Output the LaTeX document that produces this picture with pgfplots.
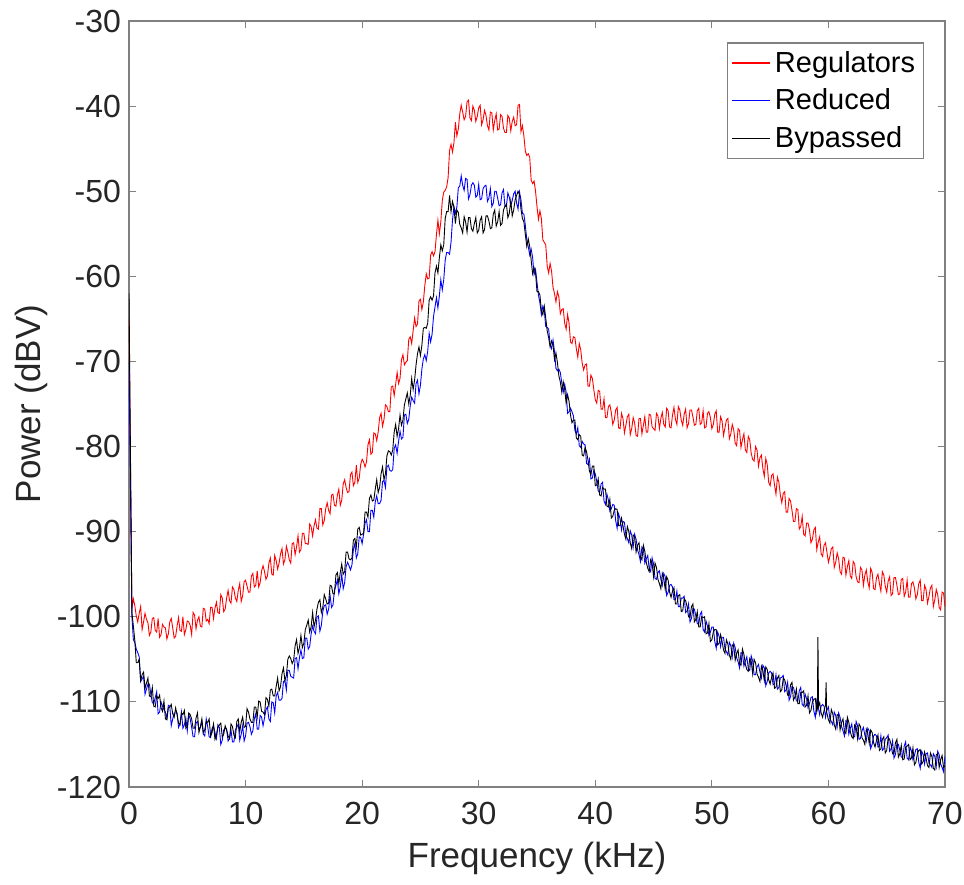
\documentclass[border=0pt]{standalone}
\usepackage{fontspec}
\setmainfont{Liberation Sans}
\usepackage{pgfplots}
\usepackage{pgfplotstable}
\pgfplotsset{compat=1.18}
\definecolor{axgray}{RGB}{128,128,128}
\definecolor{txtgray}{RGB}{38,38,38}
\pgfplotstableread{
x r b k
0 -65 -70 -62
0.25 -99.0 -100.0 -99.5
0.375 -97.9 -102.7 -101.1
0.5 -98.7 -103.0 -102.8
0.625 -99.9 -103.8 -105.4
0.75 -100.6 -104.2 -105.4
0.875 -99.6 -104.7 -105.0
1 -98.8 -107.6 -107.5
1.125 -101.5 -107.3 -106.8
1.25 -100.6 -107.0 -106.5
1.375 -99.6 -109.1 -108.4
1.5 -100.3 -108.5 -107.8
1.625 -100.7 -107.9 -107.2
1.75 -102.2 -107.9 -109.3
1.875 -101.8 -109.1 -109.4
2 -100.2 -110.1 -108.3
2.125 -100.1 -110.2 -110.5
2.25 -101.6 -109.5 -110.6
2.375 -101.8 -108.8 -109.3
2.5 -100.2 -111.4 -109.6
2.625 -102.4 -111.2 -109.2
2.75 -102.1 -110.0 -110.7
2.875 -100.9 -110.5 -111.1
3 -101.2 -110.9 -109.9
3.125 -101.3 -111.2 -112.0
3.25 -102.6 -111.9 -112.1
3.375 -102.0 -110.4 -110.7
3.5 -100.6 -110.5 -110.6
3.625 -100.2 -112.8 -110.3
3.75 -101.3 -112.0 -111.4
3.875 -102.5 -111.3 -111.8
4 -102.3 -111.3 -110.7
4.125 -101.1 -111.3 -111.5
4.25 -100.1 -113.0 -112.5
4.375 -101.6 -112.6 -112.7
4.5 -101.7 -111.2 -111.3
4.625 -100.0 -113.1 -111.5
4.75 -102.1 -112.7 -111.0
4.875 -101.5 -111.9 -113.1
5 -100.5 -113.4 -112.9
5.125 -100.6 -111.5 -111.3
5.25 -101.0 -112.0 -111.5
5.375 -102.1 -113.0 -112.0
5.5 -99.5 -114.1 -113.1
5.625 -99.8 -114.1 -113.1
5.75 -101.4 -112.5 -111.9
5.875 -100.4 -112.3 -111.3
6 -100.0 -113.2 -113.6
6.125 -101.1 -113.0 -112.9
6.25 -101.2 -112.3 -112.0
6.375 -99.0 -113.8 -113.6
6.5 -99.1 -114.0 -113.3
6.625 -100.5 -112.0 -112.3
6.75 -100.3 -112.9 -112.4
6.875 -100.8 -114.1 -112.0
7 -98.9 -114.2 -114.0
7.125 -98.9 -113.1 -113.6
7.25 -100.2 -112.8 -112.6
7.375 -99.0 -113.6 -114.4
7.5 -98.3 -114.3 -113.9
7.625 -99.5 -112.7 -113.0
7.75 -99.6 -113.0 -112.7
7.875 -97.4 -115.0 -112.5
8 -97.8 -114.5 -114.1
8.125 -99.4 -113.3 -113.8
8.25 -99.1 -113.1 -112.8
8.375 -97.8 -113.2 -113.3
8.5 -96.9 -114.6 -114.0
8.625 -98.1 -114.3 -114.3
8.75 -98.4 -113.3 -112.6
8.875 -96.5 -114.7 -112.9
9 -96.8 -114.7 -113.9
9.125 -97.8 -113.3 -114.2
9.25 -98.2 -113.0 -112.3
9.375 -96.9 -112.6 -112.0
9.5 -96.1 -114.5 -113.5
9.625 -98.2 -113.8 -112.4
9.75 -97.5 -112.8 -111.8
9.875 -95.9 -114.6 -113.0
10 -95.7 -114.0 -112.9
10.125 -96.4 -112.5 -110.8
10.25 -97.1 -112.4 -111.2
10.375 -97.1 -112.9 -112.0
10.5 -95.2 -113.8 -112.4
10.625 -94.9 -113.4 -112.4
10.75 -96.5 -112.0 -110.6
10.875 -96.3 -111.4 -110.6
11 -94.6 -113.2 -111.8
11.125 -96.5 -113.2 -109.9
11.25 -96.0 -111.6 -110.0
11.375 -94.6 -111.8 -111.1
11.5 -94.0 -112.8 -111.2
11.625 -94.7 -111.9 -111.5
11.75 -95.6 -110.9 -109.5
11.875 -95.2 -110.6 -109.7
12 -93.7 -112.0 -110.5
12.125 -93.1 -112.3 -108.6
12.25 -95.0 -110.0 -108.5
12.375 -95.1 -110.1 -109.3
12.5 -92.8 -111.3 -109.3
12.625 -93.4 -109.3 -108.2
12.75 -94.4 -108.9 -107.2
12.875 -93.7 -109.8 -108.7
13 -92.6 -109.8 -108.2
13.125 -92.0 -109.6 -106.7
13.25 -93.8 -107.6 -106.0
13.375 -93.3 -107.5 -107.5
13.5 -91.7 -108.6 -106.9
13.625 -92.4 -106.3 -105.0
13.75 -93.3 -106.3 -104.6
13.875 -93.7 -107.0 -104.9
14 -91.4 -107.1 -105.5
14.125 -91.3 -107.2 -105.1
14.25 -92.7 -104.9 -103.4
14.375 -91.8 -104.8 -102.7
14.5 -90.5 -106.1 -104.3
14.625 -92.4 -104.8 -103.6
14.75 -92.1 -103.9 -102.2
14.875 -90.2 -104.9 -103.6
15 -90.2 -104.8 -103.1
15.125 -91.4 -102.5 -101.5
15.25 -91.4 -102.5 -101.0
15.375 -91.5 -103.8 -100.4
15.5 -89.1 -103.5 -101.8
15.625 -89.4 -102.0 -101.2
15.75 -90.5 -101.1 -99.5
15.875 -89.3 -101.7 -101.2
16 -88.6 -102.0 -100.4
16.125 -89.6 -100.0 -99.1
16.25 -89.7 -99.9 -98.3
16.375 -87.3 -101.7 -98.0
16.5 -87.3 -101.0 -99.5
16.625 -89.2 -99.4 -98.9
16.75 -88.7 -98.7 -97.4
16.875 -87.3 -98.6 -97.9
17 -86.6 -99.7 -98.5
17.125 -87.5 -99.1 -98.4
17.25 -87.9 -97.5 -96.3
17.375 -85.7 -98.9 -96.4
17.5 -85.6 -98.6 -97.3
17.625 -86.9 -96.9 -97.3
17.75 -87.0 -96.3 -95.1
17.875 -85.7 -95.7 -94.8
18 -85.0 -97.3 -96.1
18.125 -86.9 -96.5 -94.8
18.25 -86.3 -95.0 -93.8
18.375 -84.4 -96.7 -95.0
18.5 -83.9 -96.0 -94.7
18.625 -84.8 -94.1 -92.4
18.75 -85.4 -93.6 -92.4
18.875 -85.3 -94.0 -93.2
19 -83.3 -94.5 -93.3
19.125 -83.0 -93.9 -93.1
19.25 -84.6 -92.1 -91.0
19.375 -84.2 -91.4 -90.8
19.5 -82.2 -93.1 -91.8
19.625 -84.2 -92.6 -89.7
19.75 -83.7 -90.6 -89.5
19.875 -82.1 -90.7 -90.4
20 -81.5 -91.4 -90.3
20.125 -81.8 -90.3 -90.2
20.25 -82.4 -89.0 -87.7
20.375 -81.8 -88.6 -87.7
20.5 -79.8 -90.0 -88.3
20.625 -79.2 -90.0 -86.1
20.75 -80.9 -87.5 -85.7
20.875 -80.7 -87.5 -86.4
21 -78.4 -88.3 -86.3
21.125 -78.5 -86.5 -85.0
21.25 -79.3 -85.8 -83.9
21.375 -78.3 -86.7 -85.4
21.5 -76.6 -86.7 -84.8
21.625 -76.1 -86.3 -83.2
21.75 -77.6 -84.1 -82.4
21.875 -76.8 -84.0 -83.9
22 -75.1 -84.8 -83.2
22.125 -75.3 -82.4 -81.1
22.25 -75.9 -82.2 -80.5
22.375 -75.9 -82.8 -80.6
22.5 -73.0 -82.9 -81.0
22.625 -72.9 -82.7 -80.4
22.75 -74.0 -80.2 -78.3
22.875 -72.7 -79.8 -77.4
23 -71.3 -80.8 -78.8
23.125 -72.6 -79.4 -77.9
23.25 -72.0 -78.2 -76.3
23.375 -69.8 -79.1 -77.5
23.5 -69.2 -78.9 -76.9
23.625 -70.4 -76.3 -75.1
23.75 -70.1 -76.2 -74.4
23.875 -69.9 -77.3 -73.7
24 -67.4 -76.8 -75.0
24.125 -67.1 -75.2 -74.0
24.25 -67.9 -74.2 -72.0
24.375 -66.4 -74.6 -73.3
24.5 -64.9 -74.9 -72.2
24.625 -65.9 -72.6 -70.4
24.75 -65.6 -72.2 -69.1
24.875 -62.9 -73.8 -68.3
25 -62.7 -72.8 -69.3
25.125 -63.9 -70.9 -68.1
25.25 -63.0 -69.7 -66.1
25.375 -61.1 -69.2 -66.0
25.5 -59.7 -69.9 -66.1
25.625 -60.3 -68.8 -65.5
25.75 -60.2 -66.7 -62.8
25.875 -57.5 -67.7 -62.4
26 -57.1 -66.8 -62.8
26.125 -57.6 -64.7 -62.3
26.25 -57.1 -63.6 -59.6
26.375 -55.1 -62.5 -58.8
26.5 -53.4 -63.7 -59.6
26.625 -55.0 -62.3 -57.8
26.75 -53.6 -60.4 -56.3
26.875 -51.1 -61.6 -57.0
27 -50.1 -60.4 -56.3
27.125 -49.9 -58.1 -53.2
27.25 -49.5 -57.2 -52.4
27.375 -48.4 -57.2 -52.4
27.5 -45.2 -57.4 -50.5
27.625 -44.5 -56.0 -52.4
27.75 -45.4 -53.4 -51.2
27.875 -44.3 -51.8 -51.9
28 -41.9 -52.6 -53.8
28.125 -43.5 -51.9 -52.2
28.25 -42.7 -49.6 -52.5
28.375 -40.9 -49.4 -53.9
28.5 -39.9 -48.2 -54.3
28.625 -40.7 -49.3 -54.9
28.75 -41.6 -49.9 -53.0
28.875 -41.2 -48.5 -53.6
29 -39.5 -48.6 -54.8
29.125 -39.3 -50.9 -53.1
29.25 -41.4 -50.4 -53.1
29.375 -41.7 -49.3 -54.4
29.5 -40.0 -49.0 -54.7
29.625 -40.5 -49.3 -53.8
29.75 -41.8 -50.7 -53.1
29.875 -41.2 -50.5 -54.9
30 -40.2 -49.2 -54.6
30.125 -39.9 -51.0 -53.4
30.25 -42.2 -50.9 -53.0
30.375 -41.6 -49.7 -54.9
30.5 -40.5 -49.4 -54.5
30.625 -41.1 -49.3 -52.9
30.75 -42.3 -51.2 -52.9
30.875 -42.8 -50.8 -53.5
31 -40.7 -49.7 -54.4
31.125 -40.8 -51.8 -54.3
31.25 -42.8 -51.4 -52.7
31.375 -41.7 -50.0 -52.2
31.5 -40.9 -50.0 -54.1
31.625 -42.8 -50.8 -53.6
31.75 -42.7 -51.7 -52.4
31.875 -41.0 -51.6 -54.0
32 -41.2 -50.2 -53.8
32.125 -42.6 -49.8 -52.2
32.25 -43.1 -51.8 -51.8
32.375 -43.1 -51.8 -51.5
32.5 -41.1 -50.2 -53.1
32.625 -41.4 -50.7 -52.6
32.75 -42.9 -51.7 -51.1
32.875 -41.8 -51.1 -52.9
33 -41.3 -50.3 -52.2
33.125 -42.3 -50.0 -51.0
33.25 -42.2 -51.4 -50.5
33.375 -39.9 -52.1 -50.0
33.5 -39.8 -50.1 -50.4
33.625 -43.0 -51.0 -52.1
33.75 -42.3 -52.6 -53.2
33.875 -43.5 -52.7 -53.6
34 -45.3 -54.0 -55.1
34.125 -45.8 -55.7 -56.5
34.25 -45.6 -56.5 -55.6
34.375 -46.0 -57.5 -56.5
34.5 -48.7 -56.8 -58.1
34.625 -49.1 -57.8 -59.7
34.75 -48.8 -59.8 -59.0
34.875 -50.0 -59.2 -59.6
35 -51.8 -60.7 -61.8
35.125 -53.3 -62.2 -61.8
35.25 -52.3 -63.1 -62.2
35.375 -53.2 -64.5 -64.0
35.5 -55.7 -63.5 -64.5
35.625 -56.0 -64.0 -63.5
35.75 -56.3 -65.9 -64.9
35.875 -58.8 -66.0 -66.4
36 -59.6 -66.2 -67.2
36.125 -58.5 -68.0 -68.3
36.25 -59.4 -68.5 -67.6
36.375 -61.3 -67.5 -68.1
36.5 -62.0 -68.8 -69.8
36.625 -63.0 -70.8 -69.0
36.75 -61.8 -71.1 -70.1
36.875 -62.4 -70.9 -71.7
37 -64.4 -71.3 -72.4
37.125 -63.9 -72.5 -73.6
37.25 -63.8 -73.6 -72.4
37.375 -65.5 -72.7 -73.3
37.5 -66.2 -73.6 -74.9
37.625 -64.5 -76.1 -73.9
37.75 -65.5 -75.9 -74.7
37.875 -67.7 -75.5 -76.3
38 -67.9 -75.9 -77.2
38.125 -67.1 -76.4 -76.9
38.25 -67.2 -78.1 -76.9
38.375 -68.5 -78.5 -79.0
38.5 -69.5 -77.8 -79.2
38.625 -67.9 -79.9 -78.6
38.75 -68.6 -80.1 -78.8
38.875 -70.2 -79.4 -81.0
39 -71.0 -79.7 -81.1
39.125 -70.4 -79.8 -80.1
39.25 -70.3 -82.0 -80.6
39.375 -72.9 -82.1 -81.6
39.5 -72.9 -81.5 -82.9
39.625 -71.6 -83.8 -83.3
39.75 -72.0 -83.7 -82.3
39.875 -73.3 -82.8 -82.3
40 -74.5 -83.2 -84.6
40.125 -74.9 -84.1 -84.5
40.25 -73.4 -85.2 -83.8
40.375 -73.5 -85.4 -85.7
40.5 -75.6 -84.4 -85.8
40.625 -75.6 -84.2 -84.8
40.75 -74.4 -86.4 -85.0
40.875 -76.6 -86.8 -85.0
41 -76.6 -85.6 -87.0
41.125 -75.3 -86.3 -87.1
41.25 -75.1 -87.6 -86.2
41.375 -76.0 -87.3 -88.4
41.5 -77.4 -86.8 -88.2
41.625 -76.9 -86.9 -87.5
41.75 -75.7 -88.7 -87.3
41.875 -75.4 -89.6 -87.4
42 -77.8 -87.9 -89.3
42.125 -77.9 -88.5 -89.3
42.25 -76.1 -89.8 -88.4
42.375 -76.7 -88.8 -89.3
42.5 -78.4 -88.9 -90.3
42.625 -77.5 -90.4 -90.9
42.75 -76.5 -90.8 -89.4
42.875 -76.2 -91.3 -90.0
43 -78.6 -89.9 -91.3
43.125 -77.9 -90.4 -92.0
43.25 -76.6 -91.8 -90.4
43.375 -77.2 -90.3 -90.6
43.5 -78.7 -90.9 -92.4
43.625 -78.8 -92.1 -91.6
43.75 -76.7 -92.7 -91.3
43.875 -76.7 -93.5 -93.0
44 -78.5 -91.8 -93.3
44.125 -77.5 -92.1 -91.6
44.25 -76.5 -93.7 -92.3
44.375 -78.3 -93.2 -93.6
44.5 -78.3 -92.8 -94.3
44.625 -76.2 -94.4 -94.7
44.75 -76.3 -94.7 -93.3
44.875 -77.7 -93.1 -93.7
45 -77.9 -93.8 -95.3
45.125 -78.1 -95.5 -93.7
45.25 -76.1 -95.6 -94.2
45.375 -76.4 -94.8 -95.6
45.5 -77.9 -94.6 -96.1
45.625 -76.7 -95.6 -96.7
45.75 -76.0 -96.3 -94.9
45.875 -77.4 -94.9 -95.5
46 -77.7 -95.3 -96.8
46.125 -75.5 -97.5 -95.3
46.25 -75.8 -97.1 -95.7
46.375 -77.7 -96.3 -97.1
46.5 -77.8 -96.2 -97.7
46.625 -76.3 -96.5 -97.0
46.75 -75.4 -98.0 -96.6
46.875 -76.8 -98.0 -98.5
47 -77.4 -97.0 -98.5
47.125 -75.3 -98.8 -97.5
47.25 -75.7 -98.8 -97.4
47.375 -76.9 -97.8 -99.4
47.5 -77.5 -97.8 -99.3
47.625 -76.2 -97.6 -97.9
47.75 -75.6 -99.5 -98.1
47.875 -77.8 -99.3 -98.8
48 -77.3 -98.5 -100.0
48.125 -75.7 -100.6 -100.1
48.25 -75.7 -100.2 -98.8
48.375 -76.5 -99.0 -98.5
48.5 -77.5 -99.1 -100.6
48.625 -77.4 -99.9 -100.3
48.75 -75.8 -100.8 -99.4
48.875 -75.5 -100.9 -101.2
49 -77.4 -99.7 -101.2
49.125 -77.2 -99.4 -100.0
49.25 -75.8 -101.5 -100.1
49.375 -77.8 -101.8 -100.0
49.5 -77.7 -100.5 -102.0
49.625 -76.1 -101.1 -101.9
49.75 -75.9 -102.2 -100.8
49.875 -76.6 -101.8 -102.9
50 -77.9 -101.2 -102.7
50.125 -77.4 -101.2 -101.8
50.25 -76.2 -102.9 -101.5
50.375 -75.8 -103.7 -101.5
50.5 -78.3 -101.8 -103.3
50.625 -78.3 -102.3 -103.1
50.75 -76.5 -103.5 -102.1
50.875 -77.0 -102.4 -102.9
51 -78.7 -102.4 -103.9
51.125 -77.8 -103.8 -104.3
51.25 -76.9 -104.1 -102.7
51.375 -76.7 -104.5 -103.2
51.5 -79.1 -103.0 -104.5
51.625 -78.5 -103.4 -105.0
51.75 -77.4 -104.7 -103.3
51.875 -78.0 -103.1 -103.4
52 -79.6 -103.6 -105.1
52.125 -79.9 -104.8 -104.3
52.25 -77.9 -105.3 -103.9
52.375 -78.1 -106.0 -105.5
52.5 -80.1 -104.2 -105.7
52.625 -79.2 -104.3 -103.8
52.75 -78.5 -105.8 -104.4
52.875 -80.4 -105.2 -105.6
53 -80.7 -104.7 -106.2
53.125 -78.8 -106.1 -106.4
53.25 -79.2 -106.3 -104.9
53.375 -80.8 -104.6 -105.2
53.5 -81.5 -105.2 -106.7
53.625 -81.7 -106.8 -105.0
53.75 -80.0 -106.8 -105.4
53.875 -80.4 -105.9 -106.7
54 -82.3 -105.6 -107.1
54.125 -81.3 -106.5 -107.6
54.25 -81.0 -107.2 -105.8
54.375 -82.6 -105.7 -106.3
54.5 -83.5 -106.0 -107.5
54.625 -81.4 -108.1 -105.9
54.75 -82.1 -107.6 -106.2
54.875 -84.2 -106.6 -107.4
55 -84.6 -106.4 -107.9
55.125 -83.4 -106.6 -107.1
55.25 -83.2 -108.0 -106.6
55.375 -84.5 -107.9 -108.4
55.5 -85.6 -106.8 -108.3
55.625 -83.6 -108.5 -107.2
55.75 -84.2 -108.3 -106.9
55.875 -85.7 -107.2 -108.8
56 -86.6 -107.1 -108.6
56.125 -85.5 -106.9 -107.2
56.25 -85.3 -108.8 -107.4
56.375 -87.7 -108.6 -108.1
56.5 -87.7 -107.7 -109.2
56.625 -86.1 -109.8 -109.3
56.75 -86.4 -109.4 -108.0
56.875 -87.5 -108.2 -107.7
57 -88.8 -108.3 -109.8
57.125 -88.8 -109.0 -109.4
57.25 -87.3 -109.9 -108.5
57.375 -87.4 -109.9 -110.2
57.5 -89.7 -108.7 -110.2
57.625 -89.4 -108.3 -108.9
57.75 -88.2 -110.3 -108.9
57.875 -90.3 -110.5 -108.7
58 -90.5 -109.1 -110.6
58.125 -89.0 -109.6 -110.4
58.25 -89.0 -110.7 -109.3
58.375 -89.8 -110.2 -111.3
58.5 -91.3 -109.5 -111.0
58.625 -90.9 -109.4 -110.0
58.75 -89.8 -111.1 -109.7
58.875 -89.5 -111.8 -109.6
59 -92.1 -109.9 -111.2
59.05 -91.7 -110.2 -110.8
59.1 -91.4 -110.4 -102.4
59.15 -91.1 -110.8 -110.5
59.25 -90.6 -111.5 -110.1
59.375 -92.6 -110.5 -111.3
59.5 -92.9 -110.3 -111.8
59.625 -91.6 -110.5 -111.0
59.75 -91.3 -111.8 -110.4
59.8 -91.8 -111.4 -107.7
59.85 -92.2 -111.0 -111.2
60 -93.6 -110.6 -112.1
60.125 -92.9 -112.0 -112.5
60.25 -92.0 -112.3 -110.9
60.375 -91.8 -112.7 -111.4
60.5 -94.2 -111.2 -112.7
60.625 -93.6 -111.6 -113.2
60.75 -92.5 -112.9 -111.5
60.875 -93.2 -111.3 -111.6
61 -94.7 -111.8 -113.3
61.125 -95.0 -112.9 -112.4
61.25 -93.0 -113.4 -112.0
61.375 -93.1 -114.0 -113.5
61.5 -95.1 -112.2 -113.7
61.625 -94.1 -112.3 -111.8
61.75 -93.4 -113.8 -112.4
61.875 -95.2 -113.1 -113.5
62 -95.5 -112.6 -114.1
62.125 -93.5 -114.0 -114.3
62.25 -93.8 -114.1 -112.7
62.375 -95.3 -112.3 -112.9
62.5 -95.9 -112.8 -114.3
62.625 -96.0 -114.4 -112.6
62.75 -94.2 -114.3 -112.9
62.875 -94.5 -113.4 -114.2
63 -96.3 -113.0 -114.5
63.125 -95.1 -113.9 -115.0
63.25 -94.5 -114.6 -113.2
63.375 -95.9 -113.1 -113.7
63.5 -96.6 -113.4 -114.9
63.625 -94.3 -115.5 -113.3
63.75 -94.8 -115.0 -113.6
63.875 -96.7 -114.0 -114.8
64 -96.8 -113.8 -115.3
64.125 -95.4 -114.0 -114.5
64.25 -95.0 -115.3 -113.9
64.375 -96.1 -115.2 -115.7
64.5 -97.0 -114.0 -115.5
64.625 -94.7 -115.7 -114.4
64.75 -95.1 -115.5 -114.1
64.875 -96.4 -114.4 -116.0
65 -97.1 -114.2 -115.7
65.125 -95.8 -113.9 -114.2
65.25 -95.3 -115.8 -114.4
65.375 -97.5 -115.5 -115.0
65.5 -97.3 -114.6 -116.1
65.625 -95.4 -116.6 -116.1
65.75 -95.4 -116.2 -114.8
65.875 -96.3 -114.9 -114.4
66 -97.4 -115.0 -116.5
66.125 -97.3 -115.7 -116.1
66.25 -95.6 -116.5 -115.1
66.375 -95.5 -116.5 -116.8
66.5 -97.6 -115.2 -116.7
66.625 -97.1 -114.7 -115.3
66.75 -95.7 -116.6 -115.2
66.875 -97.7 -116.8 -115.0
67 -97.7 -115.3 -116.8
67.125 -96.1 -115.8 -116.6
67.25 -95.9 -116.8 -115.4
67.375 -96.6 -116.3 -117.4
67.5 -97.9 -115.6 -117.1
67.625 -97.4 -115.5 -116.1
67.75 -96.1 -117.1 -115.7
67.875 -95.7 -117.8 -115.6
68 -98.1 -115.8 -117.3
68.125 -98.1 -116.2 -117.0
68.25 -96.3 -117.3 -115.9
68.375 -96.8 -116.1 -116.6
68.5 -98.4 -116.0 -117.5
68.625 -97.6 -117.2 -117.7
68.75 -96.6 -117.4 -116.0
68.875 -96.3 -117.7 -116.4
69 -98.8 -116.1 -117.8
69.125 -98.0 -116.4 -118.0
69.25 -96.8 -117.6 -116.2
69.375 -97.4 -115.8 -116.1
69.5 -98.9 -116.2 -117.7
69.625 -99.2 -117.3 -116.8
69.75 -97.1 -117.7 -116.3
69.875 -97.2 -118.2 -117.7
70 -98.8 -116.4 -117.5
}\spectra
\begin{document}
\begin{tikzpicture}
\useasboundingbox (-64.5pt,-48.5pt) rectangle (417.5pt,393.5pt);
\begin{axis}[
  scale only axis,
  width=408pt, height=383pt,
  xmin=0, xmax=70, ymin=-120, ymax=-30,
  xtick={0,10,...,70},
  ytick={-120,-110,...,-30},
  axis line style={axgray, line width=0.6pt},
  tick style={axgray, line width=0.6pt},
  major tick length=3.5pt,
  tick align=inside,
  ticklabel style={font=\fontsize{16}{19}\selectfont, text=txtgray},
  /pgf/number format/assume math mode=true,
  xticklabel style={yshift=-4pt},
  yticklabel style={xshift=-0.5pt},
  xlabel={Frequency (kHz)},
  ylabel={Power (dBV)},
  label style={font=\fontsize{17.5}{21}\selectfont, text=txtgray},
  xlabel style={at={(axis description cs:0.5,-0.0927)}, anchor=center},
  ylabel style={at={(axis description cs:-0.120,0.5)}, anchor=center},
  legend style={at={(axis description cs:0.974,0.972)}, anchor=north east,
    draw=axgray, line width=0.6pt, font=\fontsize{14.5}{17}\selectfont,
    inner sep=2pt, row sep=2.8pt, cells={anchor=west}, text=black},
  legend image code/.code={\draw[#1, line width=0.6pt] (0pt,0pt) -- (19pt,0pt);},
  every axis plot/.append style={line width=0.45pt},
]
\addplot[red, mark=none] table[x=x, y=r] {\spectra};
\addlegendentry{Regulators}
\addplot[blue, mark=none] table[x=x, y=b] {\spectra};
\addlegendentry{Reduced}
\addplot[black, mark=none] table[x=x, y=k] {\spectra};
\addlegendentry{Bypassed}
\end{axis}
\end{tikzpicture}
\end{document}
